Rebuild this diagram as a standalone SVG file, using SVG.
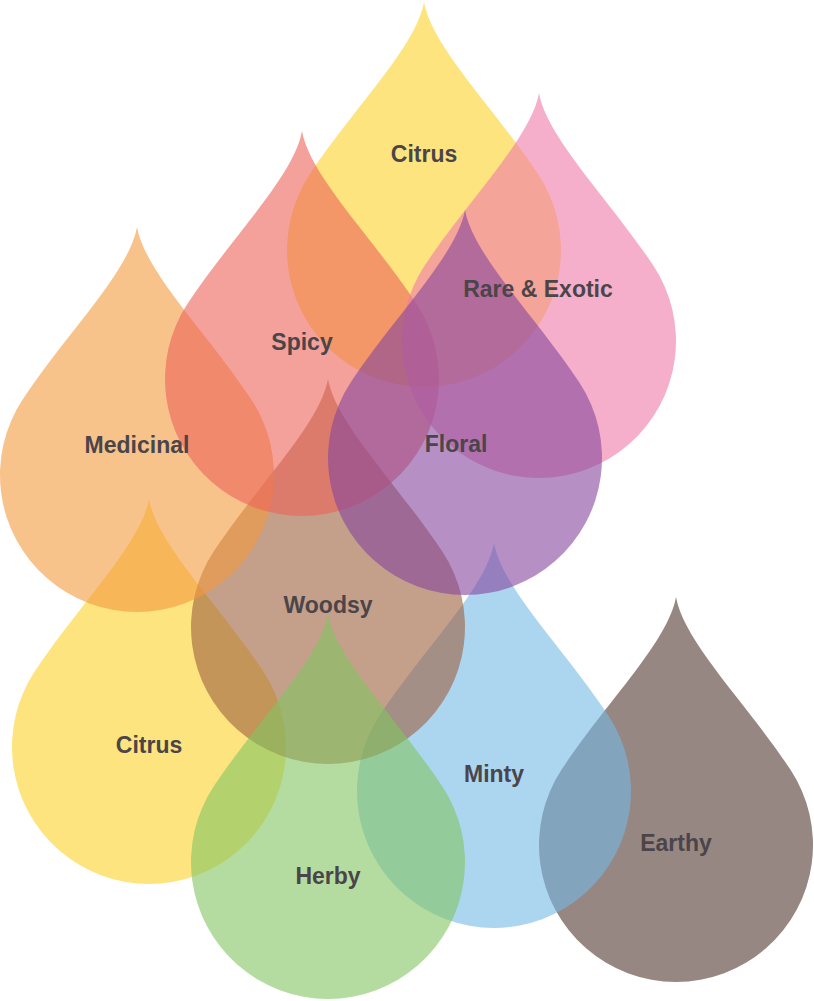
<svg xmlns="http://www.w3.org/2000/svg" width="814" height="1001" viewBox="0 0 814 1001">
  <style>
    .drop { fill-opacity: 0.6; }
    .yellow { fill: #fcd22a; }
    .pink { fill: #ee7aa8; }
    .red { fill: #ed6258; }
    .orange { fill: #f3993e; }
    .purple { fill: #85469d; }
    .woodsy { fill: #9d613e; }
    .blue { fill: #75b9e4; }
    .earthy { fill: #50372f; }
    .green { fill: #82c561; }
    .label { font-family: "Liberation Sans", Arial, sans-serif; font-weight: bold; font-size: 23px; fill: #4b4549; text-anchor: middle; }
  </style>
  <defs>
    <path id="drop" d="M0,-248 C8,-203 70,-142.4 114.2,-75.7 A137,137 0 1 1 -114.2,-75.7 C-70,-142.4 -8,-203 0,-248 Z"/>
  </defs>
  <rect width="814" height="1001" fill="#ffffff"/>
  <g id="node-earthy"><use href="#drop" class="drop earthy" transform="translate(676,845)"/></g>
  <g id="node-minty"><use href="#drop" class="drop blue" transform="translate(494,791)"/></g>
  <g id="node-citrus-bottom"><use href="#drop" class="drop yellow" transform="translate(149,747)"/></g>
  <g id="node-woodsy"><use href="#drop" class="drop woodsy" transform="translate(328,627)"/></g>
  <g id="node-herby"><use href="#drop" class="drop green" transform="translate(328,862)"/></g>
  <g id="node-medicinal"><use href="#drop" class="drop orange" transform="translate(137,475)"/></g>
  <g id="node-citrus-top"><use href="#drop" class="drop yellow" transform="translate(424,250)"/></g>
  <g id="node-spicy"><use href="#drop" class="drop red" transform="translate(302,379)"/></g>
  <g id="node-rare-exotic"><use href="#drop" class="drop pink" transform="translate(539,341)"/></g>
  <g id="node-floral"><use href="#drop" class="drop purple" transform="translate(465,458)"/></g>
  <g id="labels">
    <text id="label-citrus-top" class="label" x="424" y="162">Citrus</text>
    <text id="label-rare-exotic" class="label" x="538" y="297">Rare &amp; Exotic</text>
    <text id="label-spicy" class="label" x="302" y="350">Spicy</text>
    <text id="label-medicinal" class="label" x="137" y="453">Medicinal</text>
    <text id="label-floral" class="label" x="456" y="452">Floral</text>
    <text id="label-woodsy" class="label" x="328" y="613">Woodsy</text>
    <text id="label-citrus-bottom" class="label" x="149" y="753">Citrus</text>
    <text id="label-minty" class="label" x="494" y="782">Minty</text>
    <text id="label-earthy" class="label" x="676" y="851">Earthy</text>
    <text id="label-herby" class="label" x="328" y="884">Herby</text>
  </g>
</svg>
